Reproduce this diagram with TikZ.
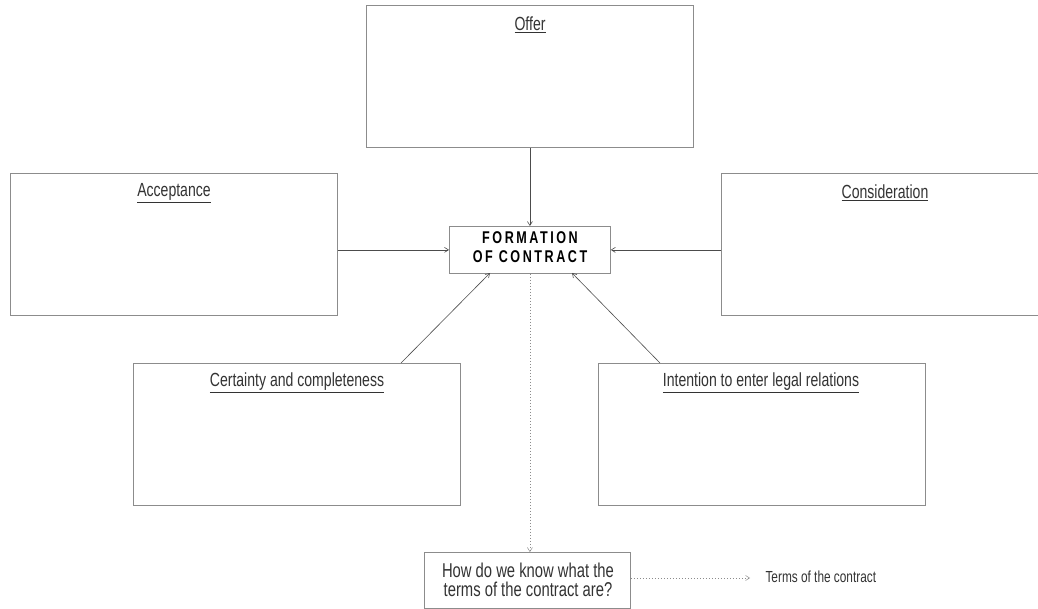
\documentclass[tikz,border=0pt]{standalone}
\usepackage{fontspec}
\setmainfont{Liberation Sans}[FakeStretch=0.74]
\newfontfamily\titlefont{Liberation Sans}[FakeStretch=0.74,LetterSpace=15]
\usetikzlibrary{arrows.meta}
\begin{document}
\begin{tikzpicture}[x=1pt,y=-1pt,
  box/.style={draw=black!45,line width=0.8pt,fill=white},
  lbl/.style={font=\fontsize{19}{21}\selectfont,text=black!80},
  conn/.style={draw=black!70,line width=0.6pt,-{Straight Barb[length=4pt,width=5pt]}},
  dconn/.style={draw=black!45,line width=0.5pt,dash pattern=on 1.5pt off 1.5pt,-{Straight Barb[length=4pt,width=5pt]}}]
\useasboundingbox (0,0) rectangle (1038,609);
\clip (0,0) rectangle (1038,609);
% boxes
\node[box,minimum width=327pt,minimum height=142pt,anchor=north west] (offer) at (366,5) {};
\node[box,minimum width=327pt,minimum height=142pt,anchor=north west] (acc) at (10,173) {};
\node[box,minimum width=340pt,minimum height=142pt,anchor=north west] (cons) at (721,173) {};
\node[box,minimum width=327pt,minimum height=142pt,anchor=north west] (cert) at (133,363) {};
\node[box,minimum width=327pt,minimum height=142pt,anchor=north west] (int) at (598,363) {};
\node[box,minimum width=161pt,minimum height=47pt,anchor=north west] (form) at (449,226) {};
\node[box,minimum width=206pt,minimum height=56pt,anchor=north west] (how) at (424,552) {};
% labels
\node[lbl] (offerl) at (530,25) {\underline{Offer}};
\node[lbl] (accl) at (174,193) {\underline{Acceptance}};
\node[lbl] (consl) at (885,193) {\underline{Consideration}};
\node[lbl] (certl) at (297,383) {\underline{Certainty and completeness}};
\node[lbl] (intl) at (761,383) {\underline{Intention to enter legal relations}};
\node[align=center,font=\titlefont\bfseries\fontsize{17}{19}\selectfont] (forml) at (530,247) {FORMATION\\OF CONTRACT};
\node[lbl,align=center,font=\fontsize{20}{19}\selectfont] (howl) at (528,580) {How do we know what the\\terms of the contract are?};
\node[lbl,anchor=west,font=\fontsize{16}{18}\selectfont] (terms) at (762,577) {Terms of the contract};
% connectors
\draw[conn] (offer.south) -- (form.north);
\draw[conn] (acc.east |- form.west) -- (form.west);
\draw[conn] (cons.west |- form.east) -- (form.east);
\draw[conn] (401,363) -- (490,273);
\draw[conn] (660,363) -- (572,273);
\draw[dconn] (form.south) -- (how.north -| form.south);
\coordinate (te) at (750,578);
\draw[dconn] (how.east |- te) -- (te);
\end{tikzpicture}
\end{document}
